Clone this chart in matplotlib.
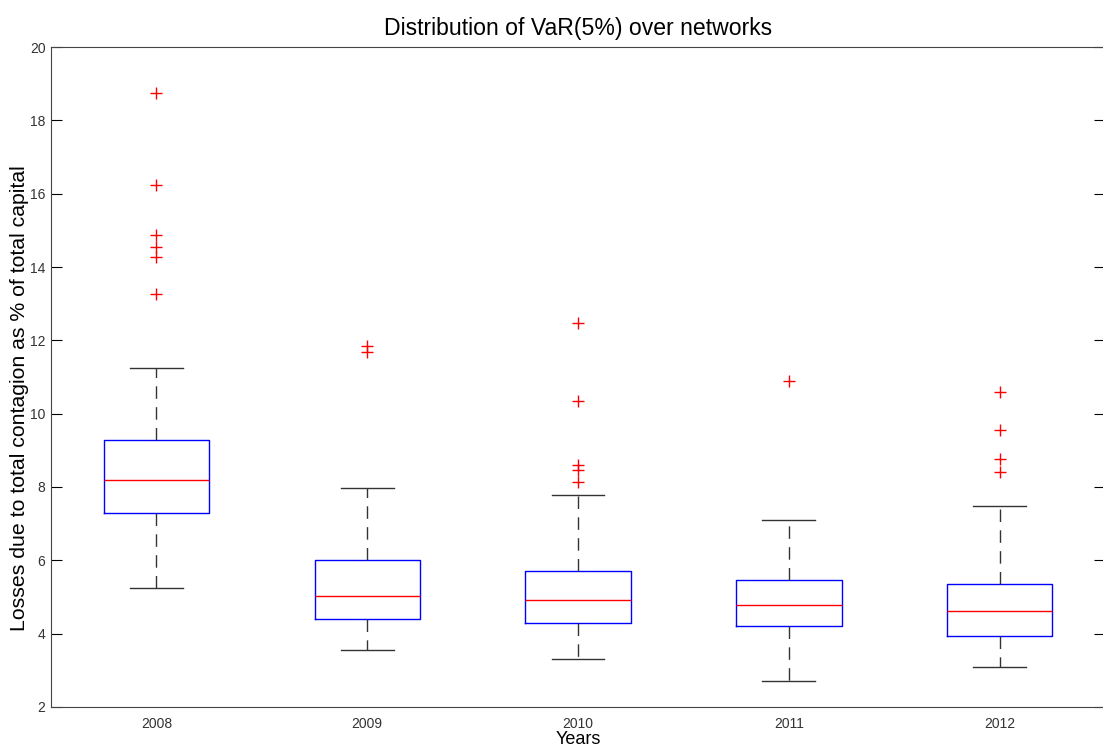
import matplotlib.pyplot as plt
from matplotlib import font_manager

years = ['2008', '2009', '2010', '2011', '2012']
whislo = [5.25, 3.56, 3.31, 2.72, 3.09]
q1 = [7.29, 4.40, 4.29, 4.21, 3.94]
med = [8.19, 5.03, 4.92, 4.78, 4.62]
q3 = [9.28, 6.02, 5.70, 5.47, 5.36]
whishi = [11.25, 7.98, 7.79, 7.10, 7.48]
fliers = [
    [18.74, 16.23, 14.87, 14.54, 14.27, 13.26],
    [11.84, 11.68],
    [12.48, 10.34, 8.60, 8.46, 8.14],
    [10.90],
    [10.59, 9.55, 8.76, 8.41],
]

names = [f.name for f in font_manager.fontManager.ttflist]
narrow = 'Liberation Sans Narrow' if 'Liberation Sans Narrow' in names else 'Liberation Sans'

stats = []
for i in range(len(years)):
    stats.append({'label': years[i], 'whislo': whislo[i], 'q1': q1[i], 'med': med[i],
                  'q3': q3[i], 'whishi': whishi[i], 'fliers': fliers[i]})

fig = plt.figure(figsize=(11.03, 7.51), dpi=100)
ax = fig.add_axes([51 / 1103, 44 / 751, 1054 / 1103, 660 / 751])

ax.bxp(stats, positions=range(1, 6), widths=0.5, showfliers=True,
       boxprops=dict(color='blue', linewidth=1),
       medianprops=dict(color='red', linewidth=1),
       whiskerprops=dict(color='#333333', linestyle=(0, (9, 6)), linewidth=1),
       capprops=dict(color='#333333', linewidth=1),
       capwidths=0.25,
       flierprops=dict(marker='+', markeredgecolor='red', markersize=8, linestyle='none'))

ax.set_xlim(0.5, 5.5)
ax.set_ylim(2, 20)
ax.set_yticks(range(2, 21, 2))
ax.tick_params(axis='y', direction='in', length=8, right=True, labelsize=10, pad=4)
ax.tick_params(axis='x', length=0, labelsize=10, pad=7)
for lab in ax.get_xticklabels() + ax.get_yticklabels():
    lab.set_fontfamily(narrow)
    lab.set_color('#333333')
for s in ax.spines.values():
    s.set_color('#444444')

ax.set_title('Distribution of VaR(5%) over networks', fontsize=16.6, family='Liberation Sans', pad=9)
ax.set_xlabel('Years', fontsize=13, family='Liberation Sans', labelpad=0)
ax.set_ylabel('Losses due to total contagion as % of total capital', fontsize=15.3,
              family='Liberation Sans')
ax.yaxis.set_label_coords(-0.021, 0.468)

plt.savefig('out.png', dpi=100)
